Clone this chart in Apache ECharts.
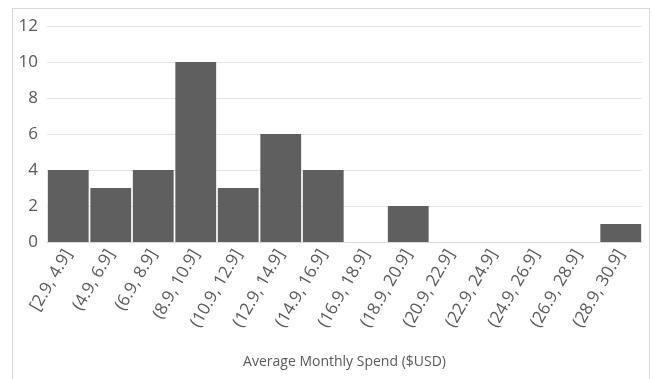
<!DOCTYPE html>
<html>
<head>
<meta charset="utf-8">
<script src="https://cdn.jsdelivr.net/npm/echarts@6/dist/echarts.min.js"></script>
<style>
  html, body { margin: 0; padding: 0; background: #fff; }
  #chart { width: 654px; height: 379px; }
  .frame { position: absolute; left: 12px; top: 8px; width: 638px; height: 380px; border: 1px solid #d9d9d9; box-sizing: border-box; }
</style>
</head>
<body>
<div class="frame"></div>
<div id="chart"></div>
<script>
// bins and counts
var bins = ['[2.9, 4.9]', '(4.9, 6.9]', '(6.9, 8.9]', '(8.9, 10.9]', '(10.9, 12.9]',
            '(12.9, 14.9]', '(14.9, 16.9]', '(16.9, 18.9]', '(18.9, 20.9]', '(20.9, 22.9]',
            '(22.9, 24.9]', '(24.9, 26.9]', '(26.9, 28.9]', '(28.9, 30.9]'];
var counts = [4, 3, 4, 10, 3, 6, 4, 0, 2, 0, 0, 0, 0, 1];
var yTicks = [0, 2, 4, 6, 8, 10, 12];

var myChart = echarts.init(document.getElementById('chart'));

var font = '"Open Sans", sans-serif';

var option = {
    animation: false,
    grid: { left: 47, right: 12, top: 26, bottom: 137 },
    xAxis: {
        type: 'category',
        data: bins,
        name: 'Average Monthly Spend ($USD)',
        nameLocation: 'middle',
        nameGap: 113,
        nameTextStyle: { color: '#595959', fontSize: 14, fontFamily: font },
        axisLine: { lineStyle: { color: '#d9d9d9' } },
        axisTick: { show: false },
        axisLabel: { rotate: 60, color: '#595959', fontSize: 17, fontFamily: font, margin: 9, interval: 0 }
    },
    yAxis: {
        type: 'value',
        min: yTicks[0],
        max: yTicks[yTicks.length - 1],
        interval: 2,
        axisLine: { show: false },
        axisTick: { show: false },
        splitLine: { lineStyle: { color: '#e6e6e6' } },
        axisLabel: { color: '#595959', fontSize: 17, fontFamily: font, margin: 9 }
    },
    series: [{
        type: 'bar',
        data: counts,
        barCategoryGap: '4%',
        itemStyle: { color: '#5f5f5f', borderColor: '#ffffff', borderWidth: 0 }
    }]
};

myChart.setOption(option);
</script>
</body>
</html>
